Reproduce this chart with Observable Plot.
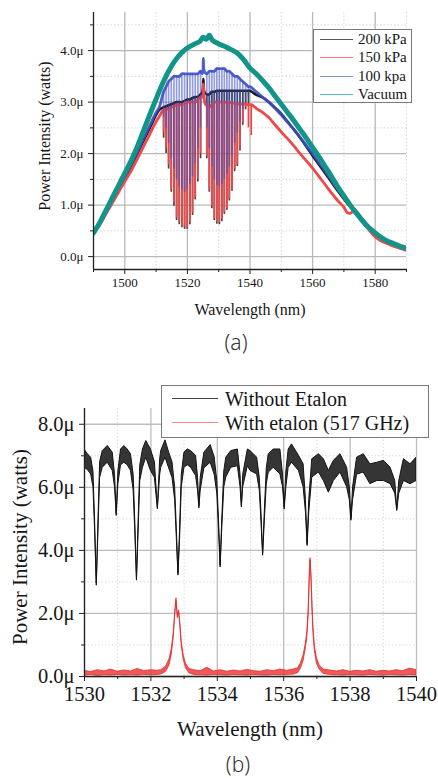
<!DOCTYPE html>
<html><head><meta charset="utf-8">
<script src="https://cdn.jsdelivr.net/npm/d3@7"></script>
<script src="https://cdn.jsdelivr.net/npm/@observablehq/plot@0.6"></script>
<style>
body{margin:0;background:#fff;}
#root{position:relative;width:438px;height:778px;overflow:hidden;background:#fff;}
.abs{position:absolute;white-space:nowrap;line-height:1.1;}
.serif{font-family:"Liberation Serif","Times New Roman",serif;color:#161616;}
.cap{font-family:"Noto Sans",sans-serif;font-weight:300;color:#333;font-size:21px;line-height:1;transform:translate(-50%,-50%);}
.lg{position:absolute;background:#fff;border:1px solid #7a7a7a;}
.sw{position:absolute;height:0;}
svg text{font-family:"Liberation Serif","Times New Roman",serif;}
</style></head><body><div id="root"></div>
<script>
// ---------- Panel (a) data ----------
const tickA_major = [1500, 1520, 1540, 1560, 1580];
const tickA_minor = [1490, 1510, 1530, 1550, 1570, 1590];
const yTickA_major = [0, 1, 2, 3, 4];
const yTickA_minor = [0.5, 1.5, 2.5, 3.5, 4.5];
const seriesA = ["200 kPa", "150 kPa", "100 kpa", "Vacuum"];

// Vacuum: [wavelength nm, power µW]
const vacuum = [[1490,0.46],[1492,0.66],[1494,0.90],[1496,1.14],[1498,1.38],[1500,1.62],[1502,1.86],[1504,2.14],[1506,2.45],[1508,2.76],[1510,3.06],[1512,3.35],[1514,3.60],[1516,3.80],[1518,3.95],[1520,4.05],[1522,4.12],[1524,4.18],[1525,4.26],[1526,4.22],[1527,4.30],[1528,4.20],[1530,4.13],[1532,4.08],[1534,4.02],[1536,3.95],[1538,3.82],[1540,3.66],[1542,3.55],[1544,3.42],[1546,3.28],[1548,3.12],[1550,2.96],[1552,2.80],[1554,2.64],[1556,2.47],[1558,2.30],[1560,2.12],[1562,1.94],[1564,1.75],[1566,1.56],[1568,1.36],[1570,1.18],[1572,1.00],[1574,0.84],[1576,0.69],[1578,0.56],[1580,0.46],[1582,0.37],[1584,0.30],[1586,0.25],[1588,0.20],[1590,0.16]];

// 200 kPa: [wavelength, value] or [wavelength, dip bottom, top]
const kpa200 = [[1490,0.45],[1492,0.64],[1494,0.86],[1496,1.09],[1498,1.31],[1500,1.53],[1502,1.76],[1504,2.00],[1506,2.25],[1508,2.50],[1510,2.75],[1511,2.85],
[1512.4,2.30,2.90],[1513.2,2.00,2.92],[1514.0,1.70,2.94],[1514.85,1.25,2.96],[1515.7,0.98,2.98],[1516.55,0.70,3.00],[1517.4,0.62,3.00],[1518.25,0.56,3.00],[1519.1,0.53,3.02],[1519.95,0.53,3.05],[1520.8,0.62,3.05],[1521.65,0.80,3.08],[1522.5,1.10,3.10],[1523.35,1.45,3.10],[1524.2,1.90,3.15],
[1524.8,3.20],[1525.1,3.45],[1525.4,3.20],
[1526.2,1.90,3.15],[1527.0,1.25,3.15],[1527.8,0.93,3.20],[1528.6,0.70,3.20],[1529.4,0.63,3.22],[1530.2,0.62,3.22],[1531.0,0.68,3.22],[1531.8,0.82,3.22],[1532.6,0.90,3.22],[1533.4,1.08,3.22],[1534.25,1.27,3.22],[1535.1,1.65,3.22],[1535.95,1.75,3.22],[1536.8,2.05,3.22],[1537.7,2.55,3.22],[1538.6,2.85,3.22],[1539.5,2.95,3.22],
[1540,3.22],[1542,3.14],[1544,3.09],[1546,3.00],[1548,2.89],[1550,2.77],[1552,2.62],[1554,2.47],[1556,2.31],[1558,2.14],[1560,1.96],[1562,1.79],[1564,1.62],[1566,1.45],[1568,1.28],[1570,1.12],[1572,0.97],[1574,0.88],[1576,0.71],[1578,0.57],[1580,0.45],[1582,0.36],[1584,0.29],[1586,0.23],[1588,0.18],[1590,0.14]];

const kpa150 = [[1490,0.44],[1492,0.62],[1494,0.83],[1496,1.04],[1498,1.25],[1500,1.46],[1502,1.66],[1504,1.90],[1506,2.14],[1508,2.38],[1510,2.62],[1511,2.72],
[1512.4,2.40,2.85],[1513.2,2.10,2.85],[1514.0,1.78,2.88],[1514.85,1.30,2.90],[1515.7,1.05,2.92],[1516.55,0.75,2.95],[1517.4,0.66,2.95],[1518.25,0.60,2.95],[1519.1,0.57,2.98],[1519.95,0.56,3.00],[1520.8,0.66,3.00],[1521.65,0.85,3.00],[1522.5,1.15,3.00],[1523.35,1.50,3.05],[1524.2,2.00,3.10],
[1524.8,3.10],[1525.1,3.35],[1525.4,3.05],[1525.8,2.95],
[1526.2,1.95,2.95],[1527.0,1.30,2.90],[1527.8,0.98,2.95],[1528.6,0.74,3.00],[1529.4,0.67,3.00],[1530.2,0.66,3.00],[1531.0,0.73,3.00],[1531.8,0.86,3.00],[1532.6,0.93,3.00],[1533.4,1.12,3.00],[1534.25,1.30,2.98],[1535.1,1.70,2.98],[1535.95,1.78,2.97],[1536.8,2.09,2.96],[1537.7,2.60,2.96],[1538.6,2.90,2.96],[1539.5,2.50,2.95],[1540.4,2.35,2.95],
[1542,2.88],[1544,2.80],[1546,2.70],[1548,2.56],[1550,2.42],[1552,2.29],[1554,2.15],[1556,2.00],[1558,1.86],[1560,1.72],[1562,1.56],[1564,1.40],[1566,1.24],[1568,1.09],[1570,0.96],[1571,0.86],[1572,0.84],[1573,0.88],[1574,0.86],[1575,0.78],[1576,0.68],[1578,0.52],[1580,0.38],[1582,0.30],[1584,0.25],[1586,0.20],[1588,0.16],[1590,0.12]];

const kpa100 = [[1490,0.46],[1492,0.65],[1494,0.88],[1496,1.11],[1498,1.34],[1500,1.56],[1502,1.79],[1504,2.03],[1506,2.29],[1508,2.55],[1510,2.80],[1511,2.90],
[1512.4,2.70,3.20],[1513.2,2.50,3.30],[1514.0,2.20,3.40],[1514.85,1.90,3.45],[1515.7,1.70,3.50],[1516.55,1.50,3.50],[1517.4,1.35,3.50],[1518.25,1.30,3.55],[1519.1,1.25,3.55],[1519.95,1.30,3.55],[1520.8,1.40,3.55],[1521.65,1.55,3.55],[1522.5,1.80,3.55],[1523.35,2.10,3.55],[1524.2,2.50,3.60],
[1524.8,3.55],[1525.1,3.85],[1525.4,3.60],
[1526.2,2.50,3.55],[1527.0,2.10,3.60],[1527.8,1.75,3.60],[1528.6,1.50,3.60],[1529.4,1.38,3.65],[1530.2,1.35,3.65],[1531.0,1.40,3.65],[1531.8,1.50,3.65],[1532.6,1.60,3.60],[1533.4,1.75,3.60],[1534.25,1.95,3.55],[1535.1,2.20,3.50],[1535.95,2.40,3.50],[1536.8,2.60,3.45],[1537.7,2.85,3.40],[1538.6,3.00,3.35],[1539.5,3.10,3.30],
[1540,3.30],[1542,3.20],[1544,3.10],[1546,3.00],[1548,2.88],[1550,2.75],[1552,2.61],[1554,2.47],[1556,2.32],[1558,2.16],[1560,2.00],[1562,1.83],[1564,1.66],[1566,1.48],[1568,1.31],[1570,1.15],[1572,1.00],[1574,0.86],[1576,0.72],[1578,0.58],[1580,0.47],[1582,0.37],[1584,0.30],[1586,0.24],[1588,0.19],[1590,0.15]];

// ---------- Panel (b) data ----------
const tickB_major = [1530, 1532, 1534, 1536, 1538, 1540];
const tickB_minor = [1531, 1533, 1535, 1537, 1539];
const yTickB_major = [0, 2, 4, 6, 8];
const yTickB_minor = [1, 3, 5, 7];
const seriesB = ["Without Etalon", "With etalon (517 GHz)"];

// Without etalon: [wavelength, band bottom, band top]
const noEtalon = [[1530.00,6.62,7.20],[1530.10,6.55,7.05],[1530.20,6.41,6.94],[1530.27,6.00,6.50],[1530.32,4.60,4.90],[1530.37,2.88,2.95],[1530.42,4.60,4.90],[1530.47,6.30,6.80],[1530.55,6.62,7.15],[1530.70,6.78,7.31],[1530.85,6.52,7.10],[1530.92,6.00,6.40],[1530.97,5.09,5.15],[1531.02,6.10,6.50],[1531.10,6.70,7.20],[1531.20,6.78,7.31],[1531.30,6.70,7.20],[1531.40,6.52,7.05],[1531.48,5.90,6.40],[1531.53,4.60,4.90],[1531.58,3.04,3.10],[1531.63,4.60,4.90],[1531.68,6.20,6.70],[1531.76,6.62,7.20],[1531.86,6.94,7.47],[1532.00,6.52,7.20],[1532.12,6.30,6.80],[1532.21,5.30,5.36],[1532.28,6.40,6.90],[1532.31,6.62,7.15],[1532.44,6.94,7.49],[1532.55,6.60,7.10],[1532.65,6.30,6.80],[1532.73,5.60,6.00],[1532.78,4.40,4.70],[1532.83,3.20,3.26],[1532.88,4.40,4.70],[1532.93,6.00,6.40],[1533.01,6.62,7.10],[1533.11,6.70,7.20],[1533.21,6.62,7.15],[1533.36,6.36,7.00],[1533.42,5.90,6.30],[1533.46,5.33,5.40],[1533.50,5.90,6.30],[1533.61,6.60,7.10],[1533.80,6.78,7.34],[1533.92,6.40,6.95],[1534.00,5.80,6.20],[1534.05,4.70,5.00],[1534.10,3.46,3.52],[1534.15,4.70,5.00],[1534.21,6.00,6.50],[1534.27,6.31,6.94],[1534.42,6.62,7.15],[1534.62,6.67,7.20],[1534.70,6.00,6.40],[1534.74,5.36,5.42],[1534.78,6.00,6.40],[1534.92,6.67,7.20],[1535.00,6.52,7.15],[1535.20,6.41,6.94],[1535.28,5.90,6.30],[1535.33,4.90,5.20],[1535.38,3.83,3.90],[1535.43,4.90,5.20],[1535.49,6.10,6.60],[1535.55,6.47,7.05],[1535.70,6.62,7.20],[1535.90,6.41,7.20],[1535.98,6.00,6.40],[1536.03,5.30,5.36],[1536.08,6.00,6.50],[1536.15,6.62,7.20],[1536.25,6.78,7.36],[1536.46,6.52,7.00],[1536.60,6.00,6.73],[1536.67,5.20,5.60],[1536.72,4.14,4.20],[1536.77,5.20,5.60],[1536.86,6.31,6.89],[1537.06,6.47,7.05],[1537.21,6.20,6.89],[1537.36,5.83,6.52],[1537.51,6.20,6.84],[1537.71,6.47,7.05],[1537.91,6.00,6.62],[1537.99,5.60,6.00],[1538.04,4.94,5.00],[1538.09,5.60,6.00],[1538.21,6.40,6.94],[1538.41,6.47,7.05],[1538.61,6.10,6.73],[1538.82,6.20,6.78],[1539.02,6.20,6.84],[1539.22,6.10,6.62],[1539.36,5.80,6.20],[1539.42,5.25,5.30],[1539.48,5.80,6.20],[1539.62,6.20,6.89],[1539.82,6.10,6.73],[1540.00,6.20,6.94]];

// With etalon: [wavelength, band bottom, band top]
const withEtalon = [[1530.0,0.03,0.18],[1530.2,0.05,0.14],[1530.4,0.02,0.20],[1530.6,0.04,0.16],[1530.8,0.03,0.22],[1531.0,0.05,0.15],[1531.2,0.03,0.19],[1531.4,0.04,0.16],[1531.6,0.03,0.24],[1531.8,0.05,0.17],[1532.0,0.04,0.20],[1532.2,0.05,0.18],[1532.31,0.06,0.20],[1532.46,0.15,0.32],[1532.56,0.35,0.55],[1532.63,0.70,0.88],[1532.69,1.25,1.40],[1532.73,1.90,2.00],[1532.77,2.40,2.48],[1532.81,1.85,1.95],[1532.85,2.02,2.10],[1532.89,1.55,1.65],[1532.93,0.95,1.08],[1532.99,0.52,0.66],[1533.06,0.25,0.40],[1533.16,0.10,0.24],[1533.3,0.05,0.20],[1533.5,0.04,0.17],[1533.7,0.03,0.28],[1533.9,0.05,0.16],[1534.1,0.04,0.20],[1534.3,0.03,0.15],[1534.5,0.05,0.19],[1534.7,0.04,0.16],[1534.9,0.03,0.21],[1535.1,0.05,0.17],[1535.3,0.04,0.15],[1535.5,0.03,0.20],[1535.7,0.05,0.17],[1535.9,0.04,0.22],[1536.1,0.05,0.18],[1536.3,0.06,0.22],[1536.43,0.10,0.26],[1536.52,0.25,0.42],[1536.6,0.50,0.68],[1536.66,0.85,1.00],[1536.71,1.20,1.40],[1536.75,1.90,2.10],[1536.79,3.20,3.40],[1536.81,3.68,3.75],[1536.84,3.00,3.15],[1536.87,2.00,2.20],[1536.9,1.30,1.50],[1536.94,0.80,0.95],[1537.0,0.42,0.58],[1537.08,0.22,0.36],[1537.2,0.08,0.22],[1537.4,0.05,0.19],[1537.6,0.04,0.16],[1537.8,0.03,0.20],[1538.0,0.05,0.15],[1538.2,0.04,0.18],[1538.4,0.03,0.16],[1538.6,0.05,0.20],[1538.8,0.04,0.15],[1539.0,0.03,0.18],[1539.2,0.05,0.16],[1539.4,0.04,0.20],[1539.6,0.03,0.17],[1539.8,0.05,0.25],[1540.0,0.04,0.20]];

// ---------- styling ----------
const SERIF = "'Liberation Serif', 'Times New Roman', serif";
const colA = {k200:"#1c1c1c", k150:"#f04848", k100:"#3d4fc2", vac:"#139488"};
const upperVal = d => d.length > 2 ? d[2] : d[1];
const dipRows = arr => arr.filter(d => d.length > 2);
const fmtNum = d => String(d);
const fmtMu = d => d.toFixed(1) + "\u03bc";

const root = document.getElementById("root");

const chartA = Plot.plot({
  width: 438, height: 330,
  marginTop: 12, marginLeft: 93, marginRight: 32, marginBottom: 61,
  x: {domain: [1490, 1590]},
  y: {domain: [-0.25, 4.74]},
  style: {fontFamily: SERIF, fontSize: "13px", color: "#161616", background: "transparent", overflow: "visible"},
  marks: [
    Plot.gridX(tickA_minor, {stroke: "#d8d8d8", strokeOpacity: 1, strokeDasharray: "1.5,2"}),
    Plot.gridY(yTickA_minor, {stroke: "#d8d8d8", strokeOpacity: 1, strokeDasharray: "1.5,2"}),
    Plot.gridX(tickA_major, {stroke: "#b9b9b9", strokeOpacity: 1, strokeWidth: 1.3}),
    Plot.gridY(yTickA_major, {stroke: "#b9b9b9", strokeOpacity: 1, strokeWidth: 1.3}),
    Plot.ruleX(dipRows(kpa200), {x: d => d[0], y1: d => d[1], y2: d => d[2], stroke: "#444", strokeWidth: 1.7, clip: true}),
    Plot.line(kpa200, {x: d => d[0], y: upperVal, stroke: colA.k200, strokeWidth: 2.6, curve: "catmull-rom", clip: true}),
    Plot.ruleX(dipRows(kpa150), {x: d => d[0], y1: d => d[1], y2: d => d[2], stroke: colA.k150, strokeWidth: 1.7, clip: true}),
    Plot.line(kpa150, {x: d => d[0], y: upperVal, stroke: colA.k150, strokeWidth: 2.8, curve: "catmull-rom", clip: true}),
    Plot.ruleX(dipRows(kpa100), {x: d => d[0], y1: d => d[1], y2: d => d[2], stroke: colA.k100, strokeWidth: 1.7, strokeOpacity: 0.55, clip: true}),
    Plot.line(kpa100, {x: d => d[0], y: upperVal, stroke: colA.k100, strokeWidth: 2.8, strokeOpacity: 0.9, curve: "catmull-rom", clip: true}),
    Plot.line(vacuum, {x: d => d[0], y: d => d[1], stroke: colA.vac, strokeWidth: 5, curve: "catmull-rom", clip: true}),
    Plot.axisX(tickA_major, {tickSize: 5, tickPadding: 3, tickFormat: fmtNum, label: null, stroke: "#222", fontFamily: SERIF, fontSize: 13}),
    Plot.axisX(tickA_minor, {tickSize: 3, tickFormat: () => "", label: null, stroke: "#222"}),
    Plot.axisY(yTickA_major, {tickSize: 5, tickPadding: 5, tickFormat: fmtMu, label: null, stroke: "#222", fontFamily: SERIF, fontSize: 13}),
    Plot.axisY(yTickA_minor, {tickSize: 3, tickFormat: () => "", label: null, stroke: "#222"}),
    Plot.ruleX([1490], {stroke: "#222", strokeWidth: 1.3}),
    Plot.ruleY([-0.25], {stroke: "#222", strokeWidth: 1.3})
  ]
});
chartA.style.position = "absolute"; chartA.style.left = "0px"; chartA.style.top = "0px";
root.appendChild(chartA);

const chartB = Plot.plot({
  width: 438, height: 340,
  marginTop: 28, marginLeft: 84, marginRight: 22, marginBottom: 44,
  x: {domain: [1530, 1540]},
  y: {domain: [0, 8.5]},
  style: {fontFamily: SERIF, fontSize: "20.5px", color: "#161616", background: "transparent", overflow: "visible"},
  marks: [
    Plot.gridX(tickB_minor, {stroke: "#dadada", strokeOpacity: 1, strokeDasharray: "1.5,2"}),
    Plot.gridY(yTickB_minor, {stroke: "#dadada", strokeOpacity: 1, strokeDasharray: "1.5,2"}),
    Plot.gridX(tickB_major, {stroke: "#bdbdbd", strokeOpacity: 1, strokeWidth: 1.3}),
    Plot.gridY(yTickB_major, {stroke: "#bdbdbd", strokeOpacity: 1, strokeWidth: 1.3}),
    Plot.areaY(noEtalon, {x: d => d[0], y1: d => d[1], y2: d => d[2], fill: "#353535", stroke: "#141414", strokeWidth: 1, clip: true}),
    Plot.areaY(withEtalon, {x: d => d[0], y1: d => d[1], y2: d => d[2], fill: "#ee3b3b", fillOpacity: 0.85, stroke: "#e52a2a", strokeWidth: 0.8, clip: true}),
    Plot.axisX(tickB_major, {tickSize: 5, tickPadding: 5, tickFormat: fmtNum, label: null, stroke: "#222", fontFamily: SERIF, fontSize: 20.5}),
    Plot.axisX(tickB_minor, {tickSize: 3, tickFormat: () => "", label: null, stroke: "#222"}),
    Plot.axisY(yTickB_major, {tickSize: 5, tickPadding: 5, tickFormat: fmtMu, label: null, stroke: "#222", fontFamily: SERIF, fontSize: 20.5}),
    Plot.axisY(yTickB_minor, {tickSize: 3, tickFormat: () => "", label: null, stroke: "#222"}),
    Plot.ruleX([1530], {stroke: "#222", strokeWidth: 1.3}),
    Plot.ruleY([0], {stroke: "#222", strokeWidth: 1.3})
  ]
});
chartB.style.position = "absolute"; chartB.style.left = "0px"; chartB.style.top = "380px";
root.appendChild(chartB);

// ---------- text & legends ----------
function addText(txt, cls, css) {
  const el = document.createElement("div");
  el.className = "abs " + cls;
  el.textContent = txt;
  Object.assign(el.style, css);
  root.appendChild(el);
  return el;
}
addText("Wavelength (nm)", "serif", {left: "250px", top: "310px", fontSize: "16px", transform: "translate(-50%,-50%)"});
addText("Power Intensity (watts)", "serif", {left: "45px", top: "136px", fontSize: "16px", transform: "translate(-50%,-50%) rotate(-90deg)"});
addText("(a)", "cap", {left: "236px", top: "342px"});
addText("Wavelength (nm)", "serif", {left: "250px", top: "730px", fontSize: "21px", transform: "translate(-50%,-50%)"});
addText("Power Intensity (watts)", "serif", {left: "21px", top: "547px", fontSize: "21px", transform: "translate(-50%,-50%) rotate(-90deg)"});
addText("(b)", "cap", {left: "238px", top: "764px"});

function legend(box, items) {
  const b = document.createElement("div");
  b.className = "lg";
  Object.assign(b.style, {left: box.x + "px", top: box.y + "px", width: box.w + "px", height: box.h + "px"});
  root.appendChild(b);
  items.forEach((it, i) => {
    const cy = box.rows[i];
    const s = document.createElement("div");
    s.className = "sw";
    Object.assign(s.style, {left: box.sx0 + "px", width: (box.sx1 - box.sx0) + "px", top: (cy - 0.7) + "px", borderTop: "1.4px solid " + it.color});
    root.appendChild(s);
    addText(it.label, "serif", {left: box.tx + "px", top: cy + "px", fontSize: box.fs + "px", transform: "translateY(-52%)"});
  });
}
legend({x: 313, y: 29, w: 97, h: 72, rows: [39.5, 58, 76.5, 94.5], sx0: 320, sx1: 353, tx: 358, fs: 15},
  [{label: seriesA[0], color: "#555"}, {label: seriesA[1], color: "#f47a7a"}, {label: seriesA[2], color: "#8590d0"}, {label: seriesA[3], color: "#4cc6bd"}]);
legend({x: 161, y: 385, w: 266, h: 51, rows: [399, 423], sx0: 172, sx1: 218, tx: 225, fs: 20},
  [{label: seriesB[0], color: "#444"}, {label: seriesB[1], color: "#f28a8a"}]);
</script>
</body></html>
